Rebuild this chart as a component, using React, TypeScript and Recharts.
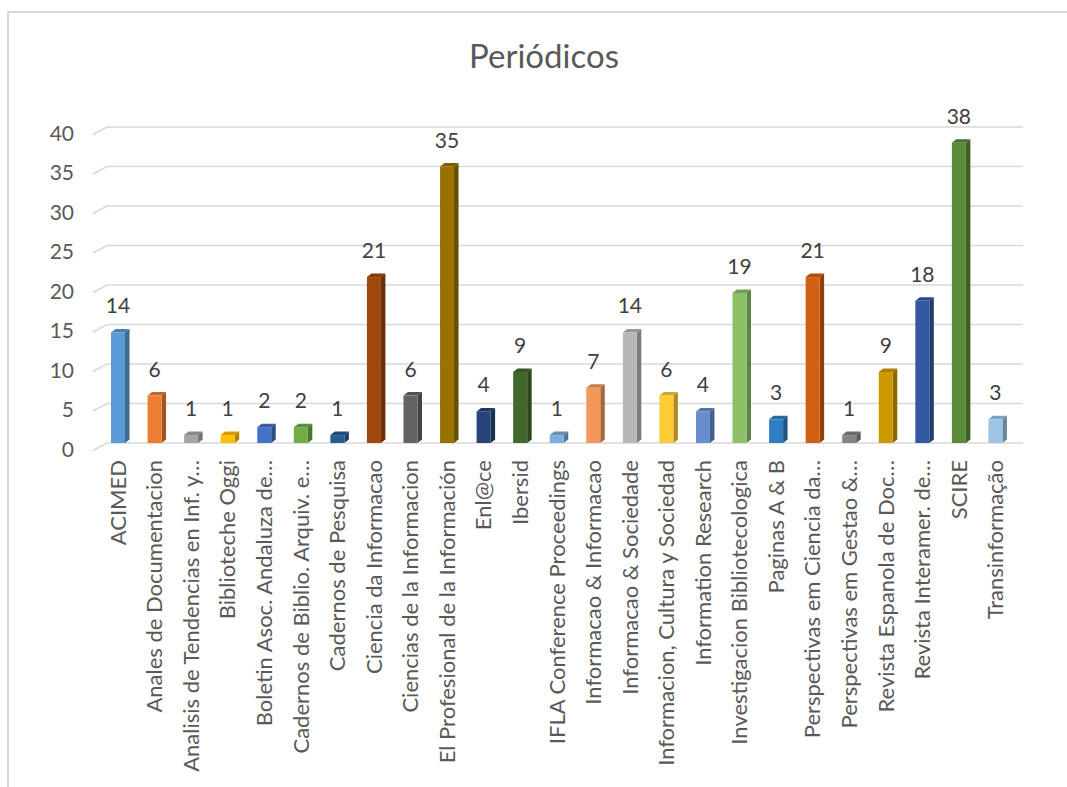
import React from "react";
import { BarChart, Bar, XAxis, YAxis, CartesianGrid, Cell, LabelList } from "recharts";

const journals = [
  "ACIMED",
  "Anales de Documentacion",
  "Analisis de Tendencias en Inf.  y…",
  "Biblioteche Oggi",
  "Boletin  Asoc. Andaluza de…",
  "Cadernos de Biblio. Arquiv. e…",
  "Cadernos de Pesquisa",
  "Ciencia da Informacao",
  "Ciencias de la Informacion",
  "El Profesional de la Información",
  "Enl@ce",
  "Ibersid",
  "IFLA Conference Proceedings",
  "Informacao & Informacao",
  "Informacao & Sociedade",
  "Informacion, Cultura y Sociedad",
  "Information Research",
  "Investigacion Bibliotecologica",
  "Paginas A & B",
  "Perspectivas em Ciencia da…",
  "Perspectivas em Gestao &…",
  "Revista Espanola de Doc…",
  "Revista Interamer. de…",
  "SCIRE",
  "Transinformação",
];

const counts = [14, 6, 1, 1, 2, 2, 1, 21, 6, 35, 4, 9, 1, 7, 14, 6, 4, 19, 3, 21, 1, 9, 18, 38, 3];

const barColors = [
  "#5B9BD5", "#ED7D31", "#A5A5A5", "#FFC000", "#4472C4", "#70AD47", "#255E91",
  "#9E480E", "#636363", "#997300", "#264478", "#43682B", "#7CAFDD", "#F1975A",
  "#B7B7B7", "#FFCD33", "#698ED0", "#8CC168", "#327DC2", "#D26012", "#848484",
  "#CC9A00", "#335AA1", "#5A8A39", "#9DC3E6",
];

const yTicks = [0, 5, 10, 15, 20, 25, 30, 35, 40];

const data = journals.map((name, i) => ({ name, value: counts[i] }));

const FONT = "Lato, 'Open Sans', sans-serif";

const shade = (hex: string, k: number) => {
  const n = parseInt(hex.slice(1), 16);
  const r = Math.round(((n >> 16) & 255) * k);
  const g = Math.round(((n >> 8) & 255) * k);
  const b = Math.round((n & 255) * k);
  return `rgb(${r},${g},${b})`;
};

// fake 3d column: front face + right side + top
const Bar3D = (props: any) => {
  const { x, y, width, height, fill } = props;
  if (height == null || height <= 0) return null;
  const dx = 4.5, dy = 3.5;
  const side = shade(fill, 0.68);
  const top = shade(fill, 0.82);
  return (
    <g>
      <path d={`M${x + width},${y} L${x + width + dx},${y - dy} L${x + width + dx},${y + height - dy} L${x + width},${y + height} Z`} fill={side} />
      <path d={`M${x},${y} L${x + dx},${y - dy} L${x + width + dx},${y - dy} L${x + width},${y} Z`} fill={top} />
      <rect x={x} y={y} width={width} height={height} fill={fill} />
    </g>
  );
};

const GridLine = (p: any) => (
  <path
    key={p.key}
    d={`M${p.x1 - 7},${p.y1 + 7.5} L${p.x1 + 7},${p.y1} L${p.x2 + 9},${p.y1}`}
    stroke="#D9D9D9"
    strokeWidth={1.6}
    fill="none"
  />
);

const YTick = (p: any) => (
  <text x={74} y={p.y + 5} textAnchor="end" dominantBaseline="central" fontSize={21} fill="#595959" fontFamily={FONT}>
    {p.payload.value}
  </text>
);

const XTick = (p: any) => {
  const x = p.x - 1;
  const y = 460;
  return (
    <text x={x} y={y} transform={`rotate(-90, ${x}, ${y})`} textAnchor="end" dominantBaseline="central" fontSize={22} fill="#595959" fontFamily={FONT}>
      {p.payload.value}
    </text>
  );
};

export default function App() {
  return (
    <div style={{ position: "absolute", left: 0, top: 0, width: 1067, height: 787, background: "#fff", overflow: "hidden" }}>
      <div style={{ position: "absolute", left: 7, top: 11, width: 1100, height: 800, borderLeft: "2px solid #D9D9D9", borderTop: "2px solid #D9D9D9" }} />
      <div style={{ position: "absolute", left: 0, top: 39, width: 1088, textAlign: "center", fontSize: 33, lineHeight: 1, color: "#595959", fontFamily: FONT }}>
        Periódicos
      </div>
      <div style={{ position: "absolute", left: 0, top: 0 }}>
        <BarChart width={1067} height={787} data={data} margin={{ top: 127, right: 53, bottom: 44, left: 40 }}>
          <CartesianGrid vertical={false} horizontal={GridLine} />
          <YAxis domain={[0, 40]} ticks={yTicks} width={60} axisLine={false} tickLine={false} tick={YTick} interval={0} />
          <XAxis dataKey="name" height={300} interval={0} axisLine={false} tickLine={false} tick={XTick} />
          <Bar dataKey="value" barSize={14} shape={Bar3D} isAnimationActive={false}>
            {data.map((d, i) => (
              <Cell key={d.name} fill={barColors[i]} />
            ))}
            <LabelList dataKey="value" position="top" offset={19} fill="#404040" fontSize={21} fontFamily={FONT} />
          </Bar>
        </BarChart>
      </div>
    </div>
  );
}
